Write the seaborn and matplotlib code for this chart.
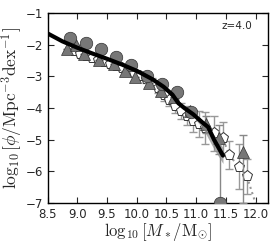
import numpy as np
import pandas as pd
import matplotlib
matplotlib.use('Agg')
import matplotlib.pyplot as plt
import seaborn as sns

sns.set_style('ticks')
plt.rcParams['font.family'] = ['DejaVu Sans']
plt.rcParams['mathtext.fontset'] = 'cm'

# model curve (thick black line)
line_x = [8.5, 8.75, 9.0, 9.25, 9.5, 9.75, 10.0, 10.25, 10.45, 10.6, 10.7, 10.8, 10.95, 11.1, 11.2, 11.3, 11.45]
line_y = [-1.65, -1.9, -2.1, -2.28, -2.45, -2.63, -2.83, -3.08, -3.33, -3.58, -3.85, -4.0, -4.2, -4.45, -4.6, -5.0, -5.5]
band_x = [11.0, 11.1, 11.2, 11.3, 11.45]
band_lo = [-4.4, -4.6, -4.95, -5.3, -5.75]
band_hi = [-4.25, -4.38, -4.6, -4.85, -5.25]

# filled circles
circ_x = [8.88, 9.15, 9.4, 9.65, 9.9, 10.17, 10.42, 10.67, 10.92, 11.4]
circ_y = [-1.78, -1.95, -2.15, -2.4, -2.65, -2.98, -3.25, -3.5, -4.12, -7.0]
circ_err_up = [0, 0, 0, 0, 0, 0, 0, 0, 0, 1.9]

# filled triangles
tri_x = [8.83, 8.97, 9.12, 9.37, 9.62, 9.8, 9.97, 10.2, 10.4, 10.62, 10.9, 11.17, 11.38, 11.78]
tri_y = [-2.15, -2.0, -2.3, -2.5, -2.6, -2.85, -3.02, -3.2, -3.45, -3.65, -4.1, -4.5, -4.95, -5.4]
tri_err_up = [0, 0, 0, 0, 0, 0, 0, 0, 0, 0, 0, 0.25, 0.4, 0.55]
tri_err_dn = [0, 0, 0, 0, 0, 0, 0, 0, 0, 0, 0, 0.3, 0.5, 1.6]

# open pentagons
pent_x = [8.95, 9.05, 9.15, 9.25, 9.35, 9.45, 9.55, 9.65, 9.75, 9.85, 9.95, 10.05, 10.15, 10.25,
          10.35, 10.45, 10.55, 10.65, 10.75, 10.85, 10.95, 11.05, 11.15, 11.3, 11.45, 11.55, 11.72, 11.85, 12.05]
pent_y = [-2.2, -2.3, -2.36, -2.43, -2.5, -2.56, -2.62, -2.68, -2.75, -2.82, -2.9, -2.98, -3.08, -3.2,
          -3.38, -3.6, -3.75, -3.95, -4.1, -4.25, -4.42, -4.5, -4.62, -4.8, -4.95, -5.48, -5.85, -6.15, -7.3]
pent_err = [0.05, 0.05, 0.05, 0.06, 0.06, 0.07, 0.07, 0.08, 0.08, 0.09, 0.1, 0.1, 0.12, 0.13,
            0.15, 0.18, 0.2, 0.22, 0.25, 0.3, 0.35, 0.4, 0.5, 0.55, 0.5, 0.45, 0.7, 0.55, 0]

fig = plt.figure(figsize=(2.75, 2.46), dpi=100)
ax = fig.add_axes([0.173, 0.174, 0.8, 0.774])

# pentagons with dotted line
ax.errorbar(pent_x[:-1], pent_y[:-1], yerr=pent_err[:-1], fmt='none', ecolor='#999999',
            elinewidth=1.0, capsize=3, zorder=2)
sns.lineplot(x=pent_x, y=pent_y, ax=ax, color='#999999', linestyle=':', linewidth=1.5,
             sort=False, zorder=2)
ax.plot(pent_x[:-1], pent_y[:-1], linestyle='none', marker='p', markersize=8,
        markerfacecolor='white', markeredgecolor='#333333', markeredgewidth=0.7, zorder=3)

# triangles
ax.errorbar(tri_x, tri_y, yerr=[tri_err_dn, tri_err_up], fmt='none', ecolor='#888888',
            elinewidth=1.0, capsize=3, zorder=3)
ax.plot(tri_x, tri_y, linestyle='none', marker='^', markersize=8,
        markerfacecolor='#777777', markeredgecolor='#333333', markeredgewidth=0.5, zorder=4)

# circles
ax.errorbar(circ_x, circ_y, yerr=[[0] * len(circ_x), circ_err_up], fmt='none', ecolor='#888888',
            elinewidth=1.0, capsize=0, zorder=3)
ax.plot(circ_x, circ_y, linestyle='none', marker='o', markersize=9,
        markerfacecolor='#777777', markeredgecolor='#333333', markeredgewidth=0.5, zorder=4)

# model
ax.fill_between(band_x, band_lo, band_hi, color='#888888', alpha=0.7, linewidth=0, zorder=5)
sns.lineplot(x=line_x, y=line_y, ax=ax, color='black', linewidth=3, sort=False, zorder=6)

ax.set_xlim(8.5, 12.2)
ax.set_ylim(-7, -1)
ax.set_xticks([8.5, 9.0, 9.5, 10.0, 10.5, 11.0, 11.5, 12.0])
ax.set_xticklabels(['8.5', '9.0', '9.5', '10.0', '10.5', '11.0', '11.5', '12.0'])
ax.set_yticks([-7, -6, -5, -4, -3, -2, -1])
ax.tick_params(direction='in', top=True, right=True, labelsize=8.5, length=4, width=0.8)
for s in ax.spines.values():
    s.set_linewidth(1.0)
    s.set_color('black')

ax.set_xlabel(r'$\log_{10}[M_*/\mathrm{M}_{\odot}]$', fontsize=12, labelpad=0)
ax.set_ylabel(r'$\log_{10}[\phi/\mathrm{Mpc}^{-3}\mathrm{dex}^{-1}]$', fontsize=12.5, labelpad=0)
ax.text(0.93, 0.93, 'z=4.0', transform=ax.transAxes, ha='right', va='center', fontsize=7.5)

fig.savefig('out.png', dpi=100)
